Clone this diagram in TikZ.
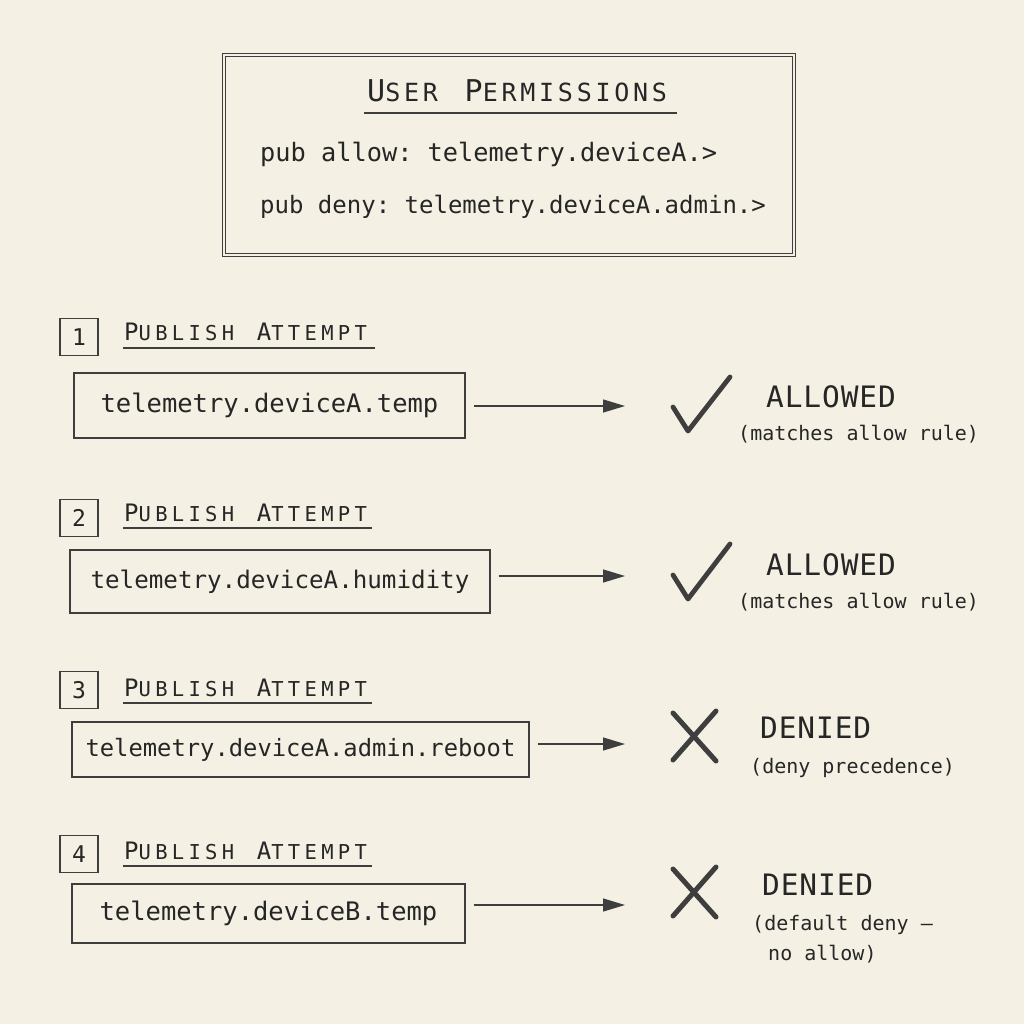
\documentclass[tikz,border=0pt]{standalone}
\usepackage{fontspec}
\setmainfont{DejaVu Sans Mono}
\newfontfamily\codefont{DejaVu Sans Mono}
\newfontfamily\capsfont{DejaVu Sans Mono}[LetterSpace=15]
\newfontfamily\headfont{DejaVu Sans Mono}[LetterSpace=21]
\newfontfamily\statfont{DejaVu Sans Mono}[LetterSpace=3]
\usetikzlibrary{arrows.meta}
\definecolor{paper}{HTML}{F4F0E4}
\definecolor{ink}{HTML}{262626}
\definecolor{pencil}{HTML}{3E3E3E}
\tikzset{
  pencilline/.style={draw=pencil, line width=1.4pt},
  codebox/.style 2 args={pencilline, minimum width=#1, inner sep=0pt, font=\codefont\fontsize{#2}{28}\selectfont, text=ink},
  numbox/.style={pencilline, minimum width=38pt, minimum height=37pt, inner sep=0pt, font=\codefont\fontsize{23}{28}\selectfont, text=ink},
  heading/.style={anchor=base west, inner sep=0pt, text=ink},
  status/.style={anchor=base west, inner sep=0pt, text=ink, font=\statfont\fontsize{29.5}{32}\selectfont},
  note/.style={anchor=base west, inner sep=0pt, text=ink, font=\codefont\fontsize{20}{24}\selectfont},
  flow/.style={draw=pencil, line width=1.3pt, -{Triangle[length=22pt,width=13pt]}},
  okmark/.style={draw=pencil, line width=4.8pt, line cap=round, line join=round},
  nomark/.style={draw=pencil, line width=5pt, line cap=round},
  uline/.style={draw=pencil, line width=1.6pt}
}
\newcommand{\pubhead}{{\headfont\fontsize{24}{30}\selectfont P\fontsize{20.5}{30}\selectfont UBLISH\hspace{6pt} \fontsize{24}{30}\selectfont A\fontsize{20.5}{30}\selectfont TTEMPT}}
\begin{document}
\frenchspacing
\begin{tikzpicture}[x=1pt,y=-1pt]
\fill[paper] (0,0) rectangle (1024,1024);
\useasboundingbox (0,0) rectangle (1024,1024);

% top permissions box
\node[draw=pencil, line width=1.1pt, double=paper, double distance=1.3pt, minimum width=570pt, minimum height=200pt, inner sep=0pt] (perm) at (509,155) {};
\node[heading] (permtitle) at (367,102) {\capsfont\fontsize{30}{32}\selectfont U\fontsize{25}{32}\selectfont SER\hspace{8pt} \fontsize{30}{32}\selectfont P\fontsize{25}{32}\selectfont ERMISSIONS};
\draw[uline] (364,113) -- (677,113);
\node[heading, font=\codefont\fontsize{25.3}{28}\selectfont] (allowrule) at (260,162) {pub allow: telemetry.deviceA.>};
\node[heading, font=\codefont\fontsize{24}{28}\selectfont] (denyrule) at (260,214) {pub deny: telemetry.deviceA.admin.>};

% ---- attempt 1
\node[numbox] (n1) at (79,337) {1};
\node[heading] (h1) at (124,340) {\pubhead};
\draw[uline] (123,348) -- (375,348);
\node[codebox={391pt}{25.5}, minimum height=65pt] (b1) at (269.5,405.5) {telemetry.deviceA.temp};
\coordinate (e1) at (625,406);
\draw[flow] (b1.east |- e1) ++(8,0) -- (e1);
\draw[okmark] (673,407) -- (688,431) -- (730,377);
\node[status] (s1) at (766,407) {ALLOWED};
\node[note] (r1) at (738,440) {(matches allow rule)};

% ---- attempt 2
\node[numbox] (n2) at (79,518) {2};
\node[heading] (h2) at (124,521) {\pubhead};
\draw[uline] (123,528) -- (372,528);
\node[codebox={420pt}{24.2}, minimum height=63pt] (b2) at (280,581.5) {telemetry.deviceA.humidity};
\coordinate (e2) at (625,576);
\draw[flow] (b2.east |- e2) ++(8,0) -- (e2);
\draw[okmark] (673,575) -- (688,599) -- (730,544);
\node[status] (s2) at (766,575) {ALLOWED};
\node[note] (r2) at (738,608) {(matches allow rule)};

% ---- attempt 3
\node[numbox] (n3) at (79,690) {3};
\node[heading] (h3) at (124,696) {\pubhead};
\draw[uline] (123,703) -- (372,703);
\node[codebox={457pt}{23.8}, minimum height=55pt] (b3) at (300.5,749.5) {telemetry.deviceA.admin.reboot};
\coordinate (e3) at (625,744);
\draw[flow] (b3.east |- e3) ++(8,0) -- (e3);
\draw[nomark] (673,713) -- (716,761);
\draw[nomark] (716,711) -- (673,760);
\node[status] (s3) at (760,738) {DENIED};
\node[note] (r3) at (750,773) {(deny precedence)};

% ---- attempt 4
\node[numbox] (n4) at (79,854) {4};
\node[heading] (h4) at (124,859) {\pubhead};
\draw[uline] (123,866) -- (372,866);
\node[codebox={393pt}{25.5}, minimum height=59pt] (b4) at (268.5,913.5) {telemetry.deviceB.temp};
\coordinate (e4) at (625,905);
\draw[flow] (b4.east |- e4) ++(8,0) -- (e4);
\draw[nomark] (673,869) -- (716,917);
\draw[nomark] (716,867) -- (673,916);
\node[status] (s4) at (762,895) {DENIED};
\node[note] (r4a) at (752,930) {(default deny —};
\node[note] (r4b) at (768,960) {no allow)};
\end{tikzpicture}
\end{document}
